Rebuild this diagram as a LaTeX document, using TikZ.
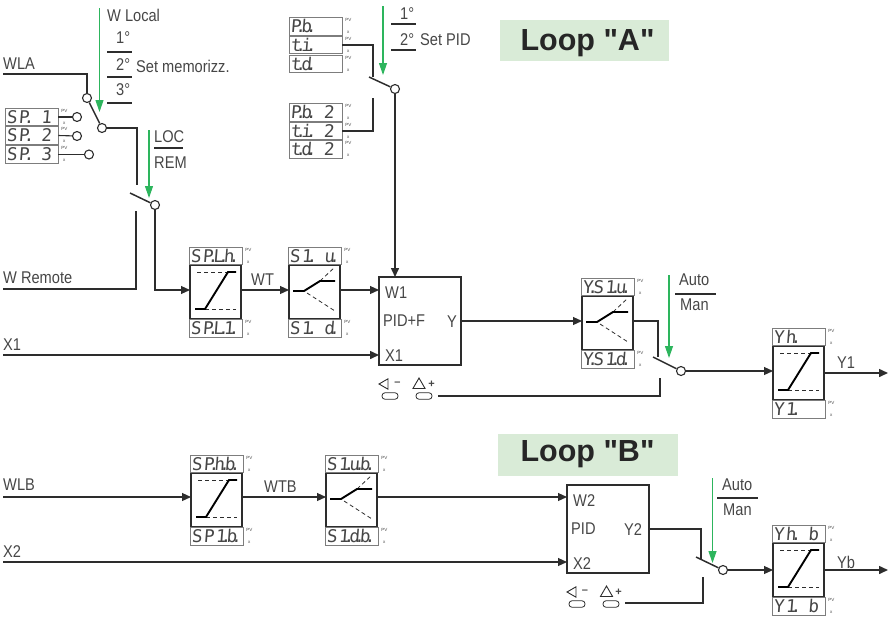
\documentclass[tikz,border=0pt]{standalone}
\usepackage{fontspec}
\setmainfont{Liberation Sans}
\usetikzlibrary{arrows.meta, positioning, calc, shapes.geometric}
\newfontfamily\lblfont[FakeStretch=0.86]{Liberation Sans}
\newfontfamily\loopfont{Liberation Sans}
\newfontfamily\dspfont[FakeSlant=0.08,LetterSpace=9]{DejaVu Sans Mono}
\definecolor{cgreen}{RGB}{45,181,93}
\definecolor{cwire}{RGB}{45,45,45}
\definecolor{cdsp}{RGB}{125,125,125}
\definecolor{ctext}{RGB}{70,70,70}
\definecolor{lightgreen}{RGB}{217,235,215}
% dot sharing the cell of the digit before it
\newcommand{\pd}{\kern-.32em\rlap{.}\kern.32em}
% 4 digit display with its two small marks
\newcommand{\dsp}[4]{
    \node[dspbox] (#1) at (#2,#3) {\makebox[50pt][l]{#4}};
    \node[tinylbl] (#1-pv) at ($(#1.north east)+(6,3)$) {PV};
    \node[tinylbl] (#1-x) at ($(#1.south east)+(6,-3)$) {x};
}
% limiter block with high and low displays
\newcommand{\rampblock}[5]{
    \node[blockbox] (#1) at (#2,#3) {};
    \dsp{#1-hi}{#2+25.5}{#3-9}{#4}
    \dsp{#1-lo}{#2+25.5}{#3+63.5}{#5}
    \draw[limdash] (#2+7,#3+7) -- (#2+38,#3+7);
    \draw[limdash] (#2+15,#3+44) -- (#2+46,#3+44);
    \draw[curve] (#2+5,#3+44) -- (#2+15,#3+44) -- (#2+38,#3+7) -- (#2+46,#3+7);
}
% slope block with up and down displays
\newcommand{\slopeblock}[5]{
    \node[blockbox] (#1) at (#2,#3) {};
    \dsp{#1-hi}{#2+25.5}{#3-9}{#4}
    \dsp{#1-lo}{#2+25.5}{#3+63.5}{#5}
    \draw[limdash] (#2+31,#3+16) -- (#2+46,#3+2);
    \draw[limdash] (#2+18,#3+28) -- (#2+46,#3+46);
    \draw[curve] (#2+4,#3+26) -- (#2+15,#3+26) -- (#2+31,#3+16) -- (#2+46,#3+16);
}
\begin{document}
\begin{tikzpicture}[
    x=1pt, y=-1pt,
    >={Triangle[length=9pt,width=8pt]},
    wire/.style={draw=cwire, line width=1.1pt},
    thickwire/.style={draw=cwire, line width=1.5pt},
    blade/.style={draw=cwire, line width=1.5pt},
    curve/.style={draw=black, line width=1.9pt},
    limdash/.style={draw=cwire, line width=.8pt, dash pattern=on 4pt off 3pt},
    sel/.style={draw=cgreen, line width=1.2pt, -{Triangle[length=12pt,width=8pt]}},
    rulebar/.style={draw=cwire, line width=1.1pt},
    term/.style={draw=cwire, circle, fill=white, line width=1.1pt, minimum size=9pt, inner sep=0pt},
    dspbox/.style={draw=cdsp, line width=.7pt, fill=white, minimum width=53pt, minimum height=17.5pt, inner sep=0pt, text=ctext, text height=12.5pt, text depth=0pt, font=\dspfont\fontsize{17.5}{17.5}\selectfont},
    tinylbl/.style={inner sep=0pt, text=ctext, font=\fontsize{4.5}{4.5}\selectfont},
    blockbox/.style={draw=cwire, line width=1.1pt, anchor=north west, minimum width=51pt, minimum height=54pt, inner sep=0pt, outer sep=0pt},
    pidbox/.style={draw=cwire, line width=1.1pt, anchor=north west, minimum width=82pt, minimum height=88pt, inner sep=0pt, outer sep=0pt},
    lbl/.style={anchor=west, inner sep=0pt, text=ctext, font=\lblfont\fontsize{17}{17}\selectfont},
    loopbox/.style={fill=lightgreen, minimum height=41.5pt, inner sep=0pt},
    looplbl/.style={inner sep=0pt, text=black!85, font=\loopfont\bfseries\fontsize{30.5}{30.5}\selectfont},
    key/.style={draw=cwire, rounded corners=3pt, line width=.8pt, minimum width=16pt, minimum height=6.5pt, inner sep=0pt},
    trileft/.style={draw=cwire, regular polygon, regular polygon sides=3, shape border rotate=90, line width=.9pt, minimum size=12pt, inner sep=0pt},
    triup/.style={draw=cwire, regular polygon, regular polygon sides=3, line width=.9pt, minimum size=14pt, inner sep=0pt},
    signlbl/.style={inner sep=0pt, text=ctext, font=\bfseries\fontsize{11}{11}\selectfont},
]
    \useasboundingbox (0,0) rectangle (888,616);

    % loop A, set point selection
    \dsp{spa}{31.5}{117}{SP\pd{} 1}
    \dsp{spb}{31.5}{135.5}{SP\pd{} 2}
    \dsp{spc}{31.5}{154.5}{SP\pd{} 3}
    \node[term] (tspa) at (77,117) {};
    \node[term] (tspb) at (77,136) {};
    \node[term] (tspc) at (89,154.5) {};
    \draw[wire] (spa.east) -- (tspa);
    \draw[wire] (spb.east) -- (tspb);
    \draw[wire] (spc.east) -- (tspc);

    \coordinate (wlastart) at (3,74);
    \node[lbl] (wla) at (3,64) {WLA};
    \node[term] (twla) at (87,98) {};
    \node[term] (tsel) at (102,128) {};
    \draw[wire] (wlastart) -| (twla);
    \draw[blade] (twla) -- (tsel);
    \coordinate (locin) at (137,185);
    \draw[wire] (tsel) -| (locin);

    \coordinate (gwl) at (99.5,8);
    \coordinate (gwlend) at (99.5,112);
    \draw[sel] (gwl) -- (gwlend);
    \node[lbl] (wlocal) at (107,15) {W Local};
    \node[lbl] (wl1) at (116,38) {1°};
    \node[lbl] (wl2) at (116,65) {2°};
    \node[lbl] (wlset) at (136,66) {Set memorizz.};
    \node[lbl] (wl3) at (116,90) {3°};
    \draw[rulebar] (107,52) -- (132,52);
    \draw[rulebar] (107,77) -- (132,77);
    \draw[rulebar] (107,103) -- (132,103);

    % local / remote switch
    \coordinate (lfree) at (130,193);
    \node[term] (tloc) at (155,205) {};
    \draw[blade] (lfree) -- (tloc);
    \coordinate (gloc) at (149,130);
    \coordinate (glocend) at (149,198);
    \draw[sel] (gloc) -- (glocend);
    \node[lbl] (loc) at (154,137) {LOC};
    \node[lbl] (rem) at (154,163) {REM};
    \draw[rulebar] (154,148) -- (183,148);
    \node[lbl] (wrem) at (3,278) {W Remote};
    \coordinate (wremstart) at (3,289);
    \coordinate (remin) at (136,211);
    \draw[wire] (wremstart) -| (remin);

    % PID parameters
    \dsp{pba}{315.5}{26.5}{P\pd b\pd}
    \dsp{tia}{315.5}{45}{t\pd i\pd}
    \dsp{tda}{315.5}{64}{t\pd d\pd}
    \dsp{pbb}{315.5}{112.5}{P\pd b\pd{} 2}
    \dsp{tib}{315.5}{131}{t\pd i\pd{} 2}
    \dsp{tdb}{315.5}{149.5}{t\pd d\pd{} 2}
    \coordinate (pidfree) at (369,77);
    \node[term] (tpid) at (395,89) {};
    \draw[blade] (pidfree) -- (tpid);
    \coordinate (pidup) at (373,77);
    \coordinate (piddn) at (373,98);
    \draw[wire] (tia.east) -| (pidup);
    \draw[wire] (tib.east) -| (piddn);
    \coordinate (gpid) at (383,6);
    \coordinate (gpidend) at (383,75);
    \draw[sel] (gpid) -- (gpidend);
    \node[lbl] (pid1) at (400,14) {1°};
    \node[lbl] (pid2) at (400,40) {2°};
    \node[lbl] (pidset) at (420,40) {Set PID};
    \draw[rulebar] (391,24) -- (416,24);
    \draw[rulebar] (391,50) -- (416,50);

    \node[loopbox, minimum width=169pt] (loopa) at (584.5,40.5) {};
    \node[looplbl] (loopatxt) at (587.5,43) {Loop "A"};

    % loop A, main line
    \rampblock{splim}{190}{265}{SP\pd L\pd h\pd}{SP\pd L\pd 1\pd}
    \slopeblock{slope}{289}{265}{S1\pd{} u\pd}{S1\pd{} d\pd}
    \node[pidbox] (pida) at (379,277) {};
    \node[lbl] (wta) at (251,280) {WT};
    \node[lbl] (w1) at (385,293) {W1};
    \node[lbl] (pidf) at (383,321) {PID+F};
    \node[lbl] (ya) at (447,322) {Y};
    \node[lbl] (x1in) at (385,356) {X1};
    \node[lbl] (x1) at (3,345) {X1};
    \coordinate (x1start) at (3,355);
    \coordinate (x1end) at (379,355);
    \coordinate (w1end) at (379,290);
    \coordinate (spin) at (190,290);
    \coordinate (spout) at (241,290);
    \coordinate (slin) at (289,290);
    \coordinate (slout) at (339,290);
    \draw[wire,->] (tloc) |- (spin);
    \draw[wire,->] (spout) -- (slin);
    \draw[wire,->] (slout) -- (w1end);
    \draw[thickwire,->] (x1start) -- (x1end);
    \draw[thickwire,->] (tpid) -- (tpid |- pida.north);

    \slopeblock{yslope}{582}{296}{Y\pd S1\pd u\pd}{Y\pd S1\pd d\pd}
    \coordinate (yout) at (461,321);
    \coordinate (ysin) at (582,321);
    \draw[wire,->] (yout) -- (ysin);
    \coordinate (ysout) at (633,321);
    \coordinate (autofree) at (653,357);
    \coordinate (autoup) at (658,357);
    \coordinate (autodn) at (660,378);
    \coordinate (keyend) at (438,396);
    \node[term] (tauto) at (681,371) {};
    \draw[wire] (ysout) -| (autoup);
    \draw[blade] (autofree) -- (tauto);
    \draw[wire] (keyend) -| (autodn);
    \coordinate (gauto) at (669,275);
    \coordinate (gautoend) at (669,358);
    \draw[sel] (gauto) -- (gautoend);
    \node[lbl] (auto) at (679,280) {Auto};
    \node[lbl] (man) at (680,305) {Man};
    \draw[rulebar] (675,294) -- (716,294);

    \node[trileft] (dna) at (385,384) {};
    \node[signlbl] (mna) at (397.5,384) {–};
    \node[triup] (upa) at (419,385) {};
    \node[signlbl] (psa) at (431.5,384) {+};
    \node[key] (keyda) at (390,396) {};
    \node[key] (keyua) at (424,396) {};

    \rampblock{ylim}{773}{346}{Yh\pd}{Y1\pd}
    \coordinate (yhin) at (773,371);
    \coordinate (y1start) at (824,373);
    \coordinate (y1end) at (888,373);
    \draw[wire,->] (tauto) -- (yhin);
    \draw[thickwire,->] (y1start) -- (y1end);
    \node[lbl] (y1) at (837,363) {Y1};

    % loop B
    \node[loopbox, minimum width=180pt] (loopb) at (588,455) {};
    \node[looplbl] (loopbtxt) at (587.5,454) {Loop "B"};
    \rampblock{splimb}{191}{473}{SP\pd h\pd b\pd}{SP1\pd b\pd}
    \slopeblock{slopeb}{326}{473}{S1\pd u\pd b\pd}{S1\pd d\pd b\pd}
    \node[pidbox] (pidb) at (567,485) {};
    \node[lbl] (wlb) at (3,485) {WLB};
    \node[lbl] (wtb) at (264,487) {WTB};
    \node[lbl] (w2) at (573,501) {W2};
    \node[lbl] (pidlbl) at (571,529) {PID};
    \node[lbl] (y2) at (624,530) {Y2};
    \node[lbl] (x2in) at (573,564) {X2};
    \node[lbl] (x2) at (3,552) {X2};
    \coordinate (wlbstart) at (3,497);
    \coordinate (spbin) at (191,497);
    \coordinate (spbout) at (242,497);
    \coordinate (slbin) at (326,497);
    \coordinate (slbout) at (377,497);
    \coordinate (w2end) at (567,497);
    \coordinate (x2start) at (3,562);
    \coordinate (x2end) at (567,562);
    \draw[wire,->] (wlbstart) -- (spbin);
    \draw[wire,->] (spbout) -- (slbin);
    \draw[wire,->] (slbout) -- (w2end);
    \draw[wire,->] (x2start) -- (x2end);

    \coordinate (y2out) at (650,529);
    \coordinate (autobfree) at (696,557);
    \coordinate (autobup) at (701,559);
    \coordinate (autobdn) at (703,577);
    \coordinate (keybend) at (625,603);
    \node[term] (tautob) at (723,570) {};
    \draw[wire] (y2out) -| (autobup);
    \draw[blade] (autobfree) -- (tautob);
    \draw[wire] (keybend) -| (autobdn);
    \coordinate (gautob) at (712.5,478);
    \coordinate (gautobend) at (712.5,563);
    \draw[sel] (gautob) -- (gautobend);
    \node[lbl] (autob) at (722,485) {Auto};
    \node[lbl] (manb) at (723,510) {Man};
    \draw[rulebar] (717,498) -- (758,498);

    \node[trileft] (dnb) at (573,592) {};
    \node[signlbl] (mnb) at (585,592) {–};
    \node[triup] (upb) at (606.5,593) {};
    \node[signlbl] (psb) at (618.5,592) {+};
    \node[key] (keydb) at (577,604) {};
    \node[key] (keyub) at (611,604) {};

    \rampblock{ylimb}{773}{543}{Yh\pd{} b}{Y1\pd{} b}
    \coordinate (ybin) at (773,570);
    \coordinate (ybstart) at (824,570);
    \coordinate (ybend) at (888,570);
    \draw[wire,->] (tautob) -- (ybin);
    \draw[thickwire,->] (ybstart) -- (ybend);
    \node[lbl] (yb) at (837,562) {Yb};
\end{tikzpicture}
\end{document}
